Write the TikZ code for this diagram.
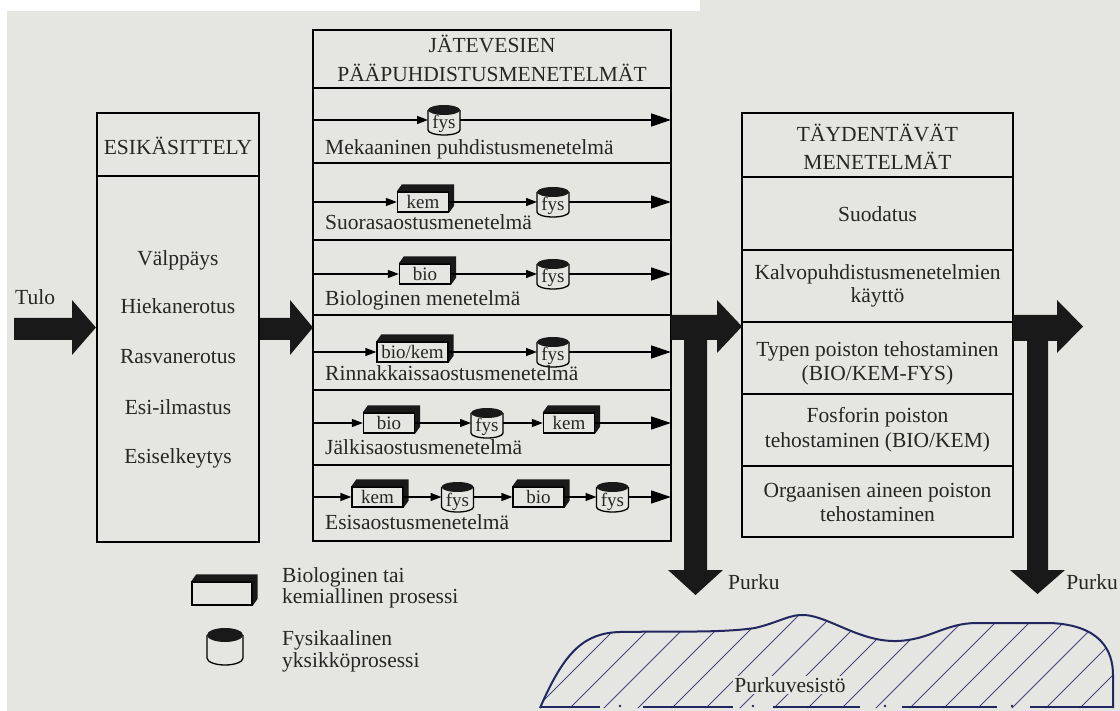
\documentclass[tikz,border=0pt]{standalone}
\usepackage{fontspec}
\setmainfont{Liberation Serif}
\usetikzlibrary{arrows.meta,calc}
\definecolor{bg}{HTML}{E5E5E2}
\definecolor{navy}{HTML}{23275F}
\newcommand\boxdepth[1]{\fill[black!90] (#1.north west) -- ++(5,-7) -- ($(#1.north east)+(5,-7)$) -- ($(#1.south east)+(5,-7)$) -- (#1.south east) -- (#1.north east) -- cycle;}
\newcommand\cylinderat[3]{%
 \filldraw[fill=bg, draw=black, line width=1.3pt] ($(#1.north west)+(0,#3)$) -- ($(#1.south west)+(0,-#3)$) arc[start angle=180, end angle=0, x radius=#2, y radius=#3] -- ($(#1.north east)+(0,#3)$);
 \fill[black!90] ($(#1.north)+(0,#3)$) ellipse[x radius=#2, y radius=#3];}
\begin{document}
\begin{tikzpicture}[x=1pt,y=-1pt,
 txt/.style={font=\fontsize{21.5}{25}\selectfont, inner sep=0pt, text=black!85},
 frame/.style={draw=black, line width=2.2pt},
 procbox/.style={draw=black, line width=1.3pt, fill=bg, minimum height=20pt, minimum width=51pt, inner sep=0pt, font=\fontsize{19}{19}\selectfont, text=black!85},
 cylspot/.style={inner sep=0pt, outer sep=0pt, minimum width=32pt, minimum height=30pt, font=\fontsize{19}{19}\selectfont, text=black!85},
 flow/.style={line width=1.3pt, -{Triangle[length=11pt,width=8pt]}},
 flowend/.style={line width=1.3pt, -{Triangle[length=20pt,width=13pt]}},
 blockarrow/.style={fill=black!90},
]
\useasboundingbox (0,0) rectangle (1120,711);
\fill[bg] (0,0) rectangle (1120,711);
\fill[white] (0,0) rectangle (700,11);
\fill[white] (0,0) rectangle (7,711);

% ---------- ESIKASITTELY ----------
\node[frame, minimum width=162pt, minimum height=429pt, inner sep=0pt] (esik) at (178,327.5) {};
\draw[frame] (97,176) -- (259,176);
\node[txt, anchor=base] (esikt) at (178,155) {ESIKÄSITTELY};
\node[txt, anchor=base] (e1) at (178,266) {Välppäys};
\node[txt, anchor=base] (e2) at (178,314) {Hiekanerotus};
\node[txt, anchor=base] (e3) at (178,364) {Rasvanerotus};
\node[txt, anchor=base] (e4) at (178,414) {Esi-ilmastus};
\node[txt, anchor=base] (e5) at (178,464) {Esiselkeytys};

% Tulo arrow
\node[txt, anchor=base west] (tulo) at (15,305) {Tulo};
\fill[blockarrow] (14,318) -- (72,318) -- (72,300) -- (esik.west) -- (72,355) -- (72,340) -- (14,340) -- cycle;

% ---------- MAIN BOX ----------
\node[frame, minimum width=358pt, minimum height=511pt, inner sep=0pt] (main) at (492,285.5) {};
\foreach \yy in {88,163,240,315,390,465} \draw[frame] (313,\yy) -- (671,\yy);
\node[txt, anchor=base] (mt1) at (492,53) {JÄTEVESIEN};
\node[txt, anchor=base] (mt2) at (492,82) {PÄÄPUHDISTUSMENETELMÄT};

% arrow esik -> main
\coordinate (mainin) at (313,327.5);
\fill[blockarrow] (esik.east |- 0,318) -- (290,318) -- (290,300) -- (mainin) -- (290,355) -- (290,340) -- (esik.east |- 0,340) -- cycle;

% Row 1
\coordinate (r1s) at (313,120); \coordinate (r1e) at (671,120);
\node[cylspot] (r1a) at (444,120) {};
\cylinderat{r1a}{16}{5}
\node[cylspot] (r1at) at (444,120) {\raisebox{-9pt}[0pt][0pt]{fys}};
\draw[flow] (r1s) -- (r1a);
\draw[flowend] (r1a) -- (r1e);
\node[txt, anchor=base west] (l1) at (325,155) {Mekaaninen puhdistusmenetelmä};

% Row 2
\coordinate (r2s) at (313,202); \coordinate (r2e) at (671,202);
\node[procbox] (r2a) at (423,202) {kem}; \boxdepth{r2a}
\node[cylspot] (r2b) at (553,202) {}; \cylinderat{r2b}{16}{5}
\node[cylspot] (r2bt) at (553,202) {\raisebox{-9pt}[0pt][0pt]{fys}};
\draw[flow] (r2s) -- (r2a);
\draw[flow] (r2a) -- (r2b);
\draw[flowend] (r2b) -- (r2e);
\node[txt, anchor=base west] (l2) at (325,230) {Suorasaostusmenetelmä};

% Row 3
\coordinate (r3s) at (313,274); \coordinate (r3e) at (671,274);
\node[procbox] (r3a) at (425,274) {bio}; \boxdepth{r3a}
\node[cylspot] (r3b) at (553,274) {}; \cylinderat{r3b}{16}{5}
\node[cylspot] (r3bt) at (553,274) {\raisebox{-9pt}[0pt][0pt]{fys}};
\draw[flow] (r3s) -- (r3a);
\draw[flow] (r3a) -- (r3b);
\draw[flowend] (r3b) -- (r3e);
\node[txt, anchor=base west] (l3) at (325,306) {Biologinen menetelmä};

% Row 4
\coordinate (r4s) at (313,352); \coordinate (r4e) at (671,352);
\node[procbox, minimum width=71pt] (r4a) at (412.5,352) {bio/kem}; \boxdepth{r4a}
\node[cylspot] (r4b) at (553,352) {}; \cylinderat{r4b}{16}{5}
\node[cylspot] (r4bt) at (553,352) {\raisebox{-9pt}[0pt][0pt]{fys}};
\draw[flow] (r4s) -- (r4a);
\draw[flow] (r4a) -- (r4b);
\draw[flowend] (r4b) -- (r4e);
\node[txt, anchor=base west] (l4) at (325,381) {Rinnakkaissaostusmenetelmä};

% Row 5
\coordinate (r5s) at (313,423); \coordinate (r5e) at (671,423);
\node[procbox] (r5a) at (389,423) {bio}; \boxdepth{r5a}
\node[cylspot] (r5b) at (487,423) {}; \cylinderat{r5b}{16}{5}
\node[cylspot] (r5bt) at (487,423) {\raisebox{-9pt}[0pt][0pt]{fys}};
\node[procbox] (r5c) at (569,423) {kem}; \boxdepth{r5c}
\draw[flow] (r5s) -- (r5a);
\draw[flow] (r5a) -- (r5b);
\draw[flow] (r5b) -- (r5c);
\draw[flowend] (r5c) -- (r5e);
\node[txt, anchor=base west] (l5) at (325,454) {Jälkisaostusmenetelmä};

% Row 6
\coordinate (r6s) at (313,497); \coordinate (r6e) at (671,497);
\node[procbox] (r6a) at (377.5,497) {kem}; \boxdepth{r6a}
\node[cylspot] (r6b) at (457.5,497) {}; \cylinderat{r6b}{16}{5}
\node[cylspot] (r6bt) at (457.5,497) {\raisebox{-9pt}[0pt][0pt]{fys}};
\node[procbox] (r6c) at (538.5,497) {bio}; \boxdepth{r6c}
\node[cylspot] (r6d) at (612.5,497) {}; \cylinderat{r6d}{16}{5}
\node[cylspot] (r6dt) at (612.5,497) {\raisebox{-9pt}[0pt][0pt]{fys}};
\draw[flow] (r6s) -- (r6a);
\draw[flow] (r6a) -- (r6b);
\draw[flow] (r6b) -- (r6c);
\draw[flow] (r6c) -- (r6d);
\draw[flowend] (r6d) -- (r6e);
\node[txt, anchor=base west] (l6) at (325,529) {Esisaostusmenetelmä};

% ---------- TAYDENTAVAT ----------
\node[frame, minimum width=271pt, minimum height=424pt, inner sep=0pt] (tayd) at (877.5,325) {};
\foreach \yy in {177,250,322,394,466} \draw[frame] (742,\yy) -- (1013,\yy);
\node[txt, anchor=base] (t1) at (877.5,142) {TÄYDENTÄVÄT};
\node[txt, anchor=base] (t2) at (877.5,170) {MENETELMÄT};
\node[txt, anchor=base] (t3) at (877.5,222) {Suodatus};
\node[txt, anchor=base] (t4) at (877.5,280) {Kalvopuhdistusmenetelmien};
\node[txt, anchor=base] (t5) at (877.5,303) {käyttö};
\node[txt, anchor=base] (t6) at (877.5,357) {Typen poiston tehostaminen};
\node[txt, anchor=base] (t7) at (877.5,381) {(BIO/KEM-FYS)};
\node[txt, anchor=base] (t8) at (877.5,423) {Fosforin poiston};
\node[txt, anchor=base] (t9) at (877.5,447) {tehostaminen (BIO/KEM)};
\node[txt, anchor=base] (t10) at (877.5,497) {Orgaanisen aineen poiston};
\node[txt, anchor=base] (t11) at (877.5,521) {tehostaminen};

% T arrows
\fill[blockarrow] (671,315) -- (717,315) -- (717,300) -- (742,326.5) -- (717,353) -- (717,340) -- (707,340) -- (707,570) -- (723,570) -- (695.5,595) -- (668,570) -- (684,570) -- (684,340) -- (671,340) -- cycle;
\fill[blockarrow] (1013,315) -- (1057,315) -- (1057,300) -- (1083,326.5) -- (1057,353) -- (1057,341) -- (1048,341) -- (1048,570) -- (1065,570) -- (1037.5,594) -- (1010,570) -- (1027,570) -- (1027,341) -- (1013,341) -- cycle;
\node[txt, anchor=base west] (p1) at (728,589) {Purku};
\node[txt, anchor=base east] (p2) at (1118,589) {Purku};

% ---------- Legend ----------
\node[draw=black, line width=1.4pt, fill=bg, minimum width=60pt, minimum height=23pt, inner sep=0pt] (legbox) at (222,593.5) {};
\boxdepth{legbox}
\node[cylspot, minimum width=36pt, minimum height=37pt] (legcyl) at (225,646.5) {};
\cylinderat{legcyl}{18}{7}
\node[txt, anchor=base west] (lg1) at (282,582) {Biologinen tai};
\node[txt, anchor=base west] (lg2) at (282,603) {kemiallinen prosessi};
\node[txt, anchor=base west] (lg3) at (282,645) {Fysikaalinen};
\node[txt, anchor=base west] (lg4) at (282,667) {yksikköprosessi};

% ---------- Water body ----------
\begin{scope}
\clip (540,708) .. controls (565,650) and (585,633) .. (620,632)
 .. controls (680,631) and (720,633) .. (755,628)
 .. controls (780,622) and (790,614) .. (805,615)
 .. controls (830,617) and (860,642) .. (897,641)
 .. controls (930,640) and (945,623) .. (977,623)
 -- (1050,623)
 .. controls (1100,625) and (1113,650) .. (1113,675)
 -- (1113,708) -- cycle;
\foreach \i in {0,...,21} \draw[navy!85, line width=1pt] (430+\i*34,712) -- ++(115,-115);
\end{scope}
\draw[navy, line width=2pt] (540,708) .. controls (565,650) and (585,633) .. (620,632)
 .. controls (680,631) and (720,633) .. (755,628)
 .. controls (780,622) and (790,614) .. (805,615)
 .. controls (830,617) and (860,642) .. (897,641)
 .. controls (930,640) and (945,623) .. (977,623)
 -- (1050,623)
 .. controls (1100,625) and (1113,650) .. (1113,675)
 -- (1113,708);
\foreach \a/\b in {540/600,643/733,773/860,902/997,1030/1113} \draw[navy, line width=2pt] (\a,707) -- (\b,707);
\foreach \d in {620,753,885,1012} \fill[navy] (\d,706) circle (1.3);
\node[txt, fill=bg, inner sep=1.5pt, anchor=base] (pv) at (790,692) {Purkuvesistö};
\end{tikzpicture}
\end{document}
